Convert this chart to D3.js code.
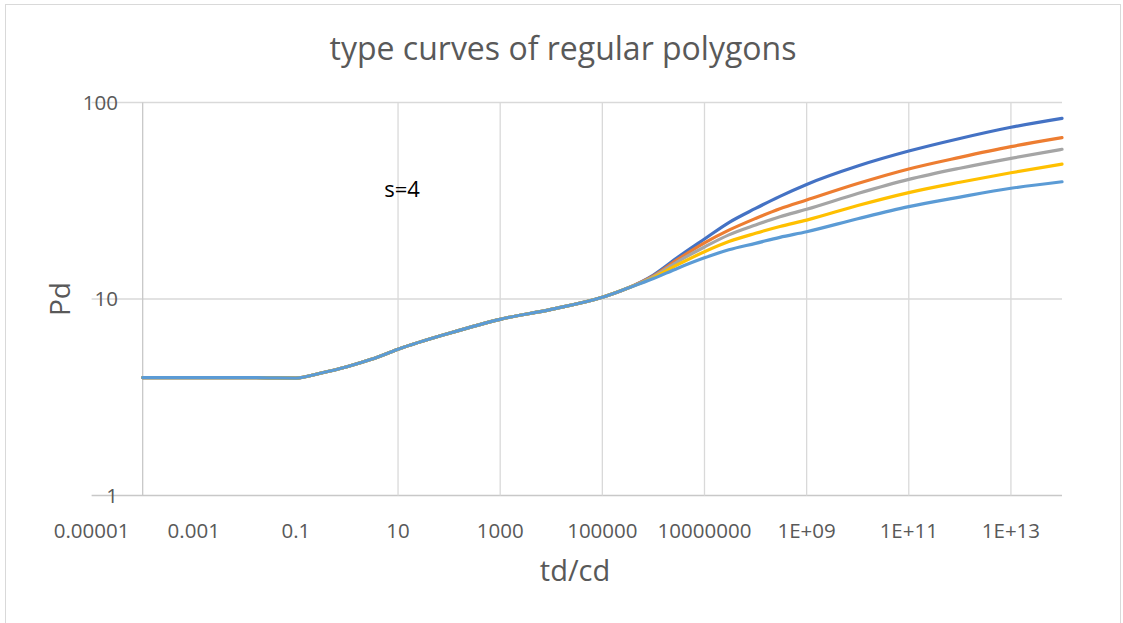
<!DOCTYPE html>
<html>
<head>
<meta charset="utf-8">
<script src="https://cdn.jsdelivr.net/npm/d3@7"></script>
<style>
  html, body { margin: 0; padding: 0; background: #fff; }
  #chart { width: 1123px; height: 623px; }
  text { font-family: "Open Sans", "Liberation Sans", sans-serif; }
</style>
</head>
<body>
<div id="chart"></div>
<script>
// td/cd values (x) shared by every series
const tdcd = [1e-4, 1e-3, 1e-2, 0.03, 0.1, 0.3, 1, 3, 10, 100, 1e3, 1e4, 1e5, 3e5,
  1e6, 3e6, 1e7, 3e7, 1e8, 3e8, 1e9, 1e10, 1e11, 1e12, 1e13, 1e14];

// early part is common to all curves
const common = [3.98, 3.98, 3.98, 3.97, 3.96, 4.19, 4.52, 4.93, 5.55, 6.69, 7.88, 8.86, 10.2, 11.3];

const series1 = common.concat([13.25, 16.3, 20.2, 24.5, 28.9, 33.3, 38.3, 47.5, 56.6, 65.6, 74.8, 83.1]);
const series2 = common.concat([13.1, 15.9, 19.3, 22.4, 25.7, 28.8, 31.9, 38.7, 45.9, 52.6, 59.6, 66.2]);
const series3 = common.concat([13.0, 15.5, 18.4, 21.2, 23.8, 26.2, 28.6, 34.4, 40.6, 46.3, 52.0, 57.8]);
const series4 = common.concat([12.85, 14.95, 17.4, 19.6, 21.6, 23.4, 25.2, 29.9, 34.8, 39.3, 43.9, 48.6]);
const series5 = common.concat([12.7, 14.35, 16.2, 17.8, 19.2, 20.6, 22.0, 25.6, 29.5, 33.0, 36.6, 39.5]);

const seriesList = [series1, series2, series3, series4, series5];
const seriesColors = ['#4472C4', '#ED7D31', '#A5A5A5', '#FFC000', '#5B9BD5'];

// axis ticks
const xTickValues = [1e-5, 1e-3, 1e-1, 10, 1e3, 1e5, 1e7, 1e9, 1e11, 1e13];
const xTickLabels = ['0.00001', '0.001', '0.1', '10', '1000', '100000', '10000000', '1E+09', '1E+11', '1E+13'];
const xGridValues = [10, 1e3, 1e5, 1e7, 1e9, 1e11, 1e13];
const yTickValues = [1, 10, 100];
const yTickLabels = ['1', '10', '100'];

const width = 1123, height = 623;
const svg = d3.select('#chart').append('svg')
  .attr('width', width).attr('height', height);

// chart border
svg.append('rect')
  .attr('x', 5.5).attr('y', 4.5)
  .attr('width', 1115).attr('height', 640)
  .attr('fill', '#fff')
  .attr('stroke', '#d9d9d9').attr('stroke-width', 1);

const xScale = d3.scaleLog().domain([1e-5, 1e14]).range([91.6, 1062]);
const yScale = d3.scaleLog().domain([1, 100]).range([495.5, 102.5]);

// horizontal gridlines
svg.selectAll('.hgrid')
  .data(yTickValues)
  .enter().append('line')
  .attr('class', 'hgrid')
  .attr('x1', xScale(1e-5)).attr('x2', xScale(1e14))
  .attr('y1', d => yScale(d)).attr('y2', d => yScale(d))
  .attr('stroke', d => d === 1 ? '#c8c8c8' : '#d9d9d9')
  .attr('stroke-width', 1.3);

// vertical gridlines
svg.selectAll('.vgrid')
  .data(xGridValues)
  .enter().append('line')
  .attr('class', 'vgrid')
  .attr('x1', d => xScale(d)).attr('x2', d => xScale(d))
  .attr('y1', yScale(100)).attr('y2', yScale(1))
  .attr('stroke', '#d9d9d9')
  .attr('stroke-width', 1.3);

// y axis line crosses at 1e-4
svg.append('line')
  .attr('x1', xScale(1e-4)).attr('x2', xScale(1e-4))
  .attr('y1', yScale(100)).attr('y2', yScale(1))
  .attr('stroke', '#c8c8c8')
  .attr('stroke-width', 1.3);

// x tick labels
svg.selectAll('.xlab')
  .data(xTickValues)
  .enter().append('text')
  .attr('class', 'xlab')
  .attr('x', d => xScale(d))
  .attr('y', 538)
  .attr('text-anchor', 'middle')
  .attr('fill', '#595959')
  .style('font-size', '20.5px')
  .text((d, i) => xTickLabels[i]);

// y tick labels
svg.selectAll('.ylab')
  .data(yTickValues)
  .enter().append('text')
  .attr('class', 'ylab')
  .attr('x', 118)
  .attr('y', d => yScale(d))
  .attr('dy', '0.35em')
  .attr('text-anchor', 'end')
  .attr('fill', '#595959')
  .style('font-size', '20.5px')
  .text((d, i) => yTickLabels[i]);

// curves
const line = d3.line()
  .x((d, i) => xScale(tdcd[i]))
  .y(d => yScale(d))
  .curve(d3.curveMonotoneX);

svg.selectAll('.curve')
  .data(seriesList)
  .enter().append('path')
  .attr('class', 'curve')
  .attr('fill', 'none')
  .attr('stroke', (d, i) => seriesColors[i])
  .attr('stroke-width', 3.2)
  .attr('stroke-linecap', 'round')
  .attr('d', line);

// titles
svg.append('text')
  .attr('x', 563).attr('y', 60)
  .attr('text-anchor', 'middle')
  .attr('fill', '#595959')
  .style('font-size', '32px')
  .text('type curves of regular polygons');

svg.append('text')
  .attr('x', 575).attr('y', 581)
  .attr('text-anchor', 'middle')
  .attr('fill', '#595959')
  .style('font-size', '29px')
  .text('td/cd');

svg.append('text')
  .attr('transform', 'translate(70, 299) rotate(-90)')
  .attr('text-anchor', 'middle')
  .attr('fill', '#595959')
  .style('font-size', '28px')
  .text('Pd');

svg.append('text')
  .attr('x', 402).attr('y', 197)
  .attr('text-anchor', 'middle')
  .attr('fill', '#000')
  .style('font-size', '22px')
  .text('s=4');
</script>
</body>
</html>
